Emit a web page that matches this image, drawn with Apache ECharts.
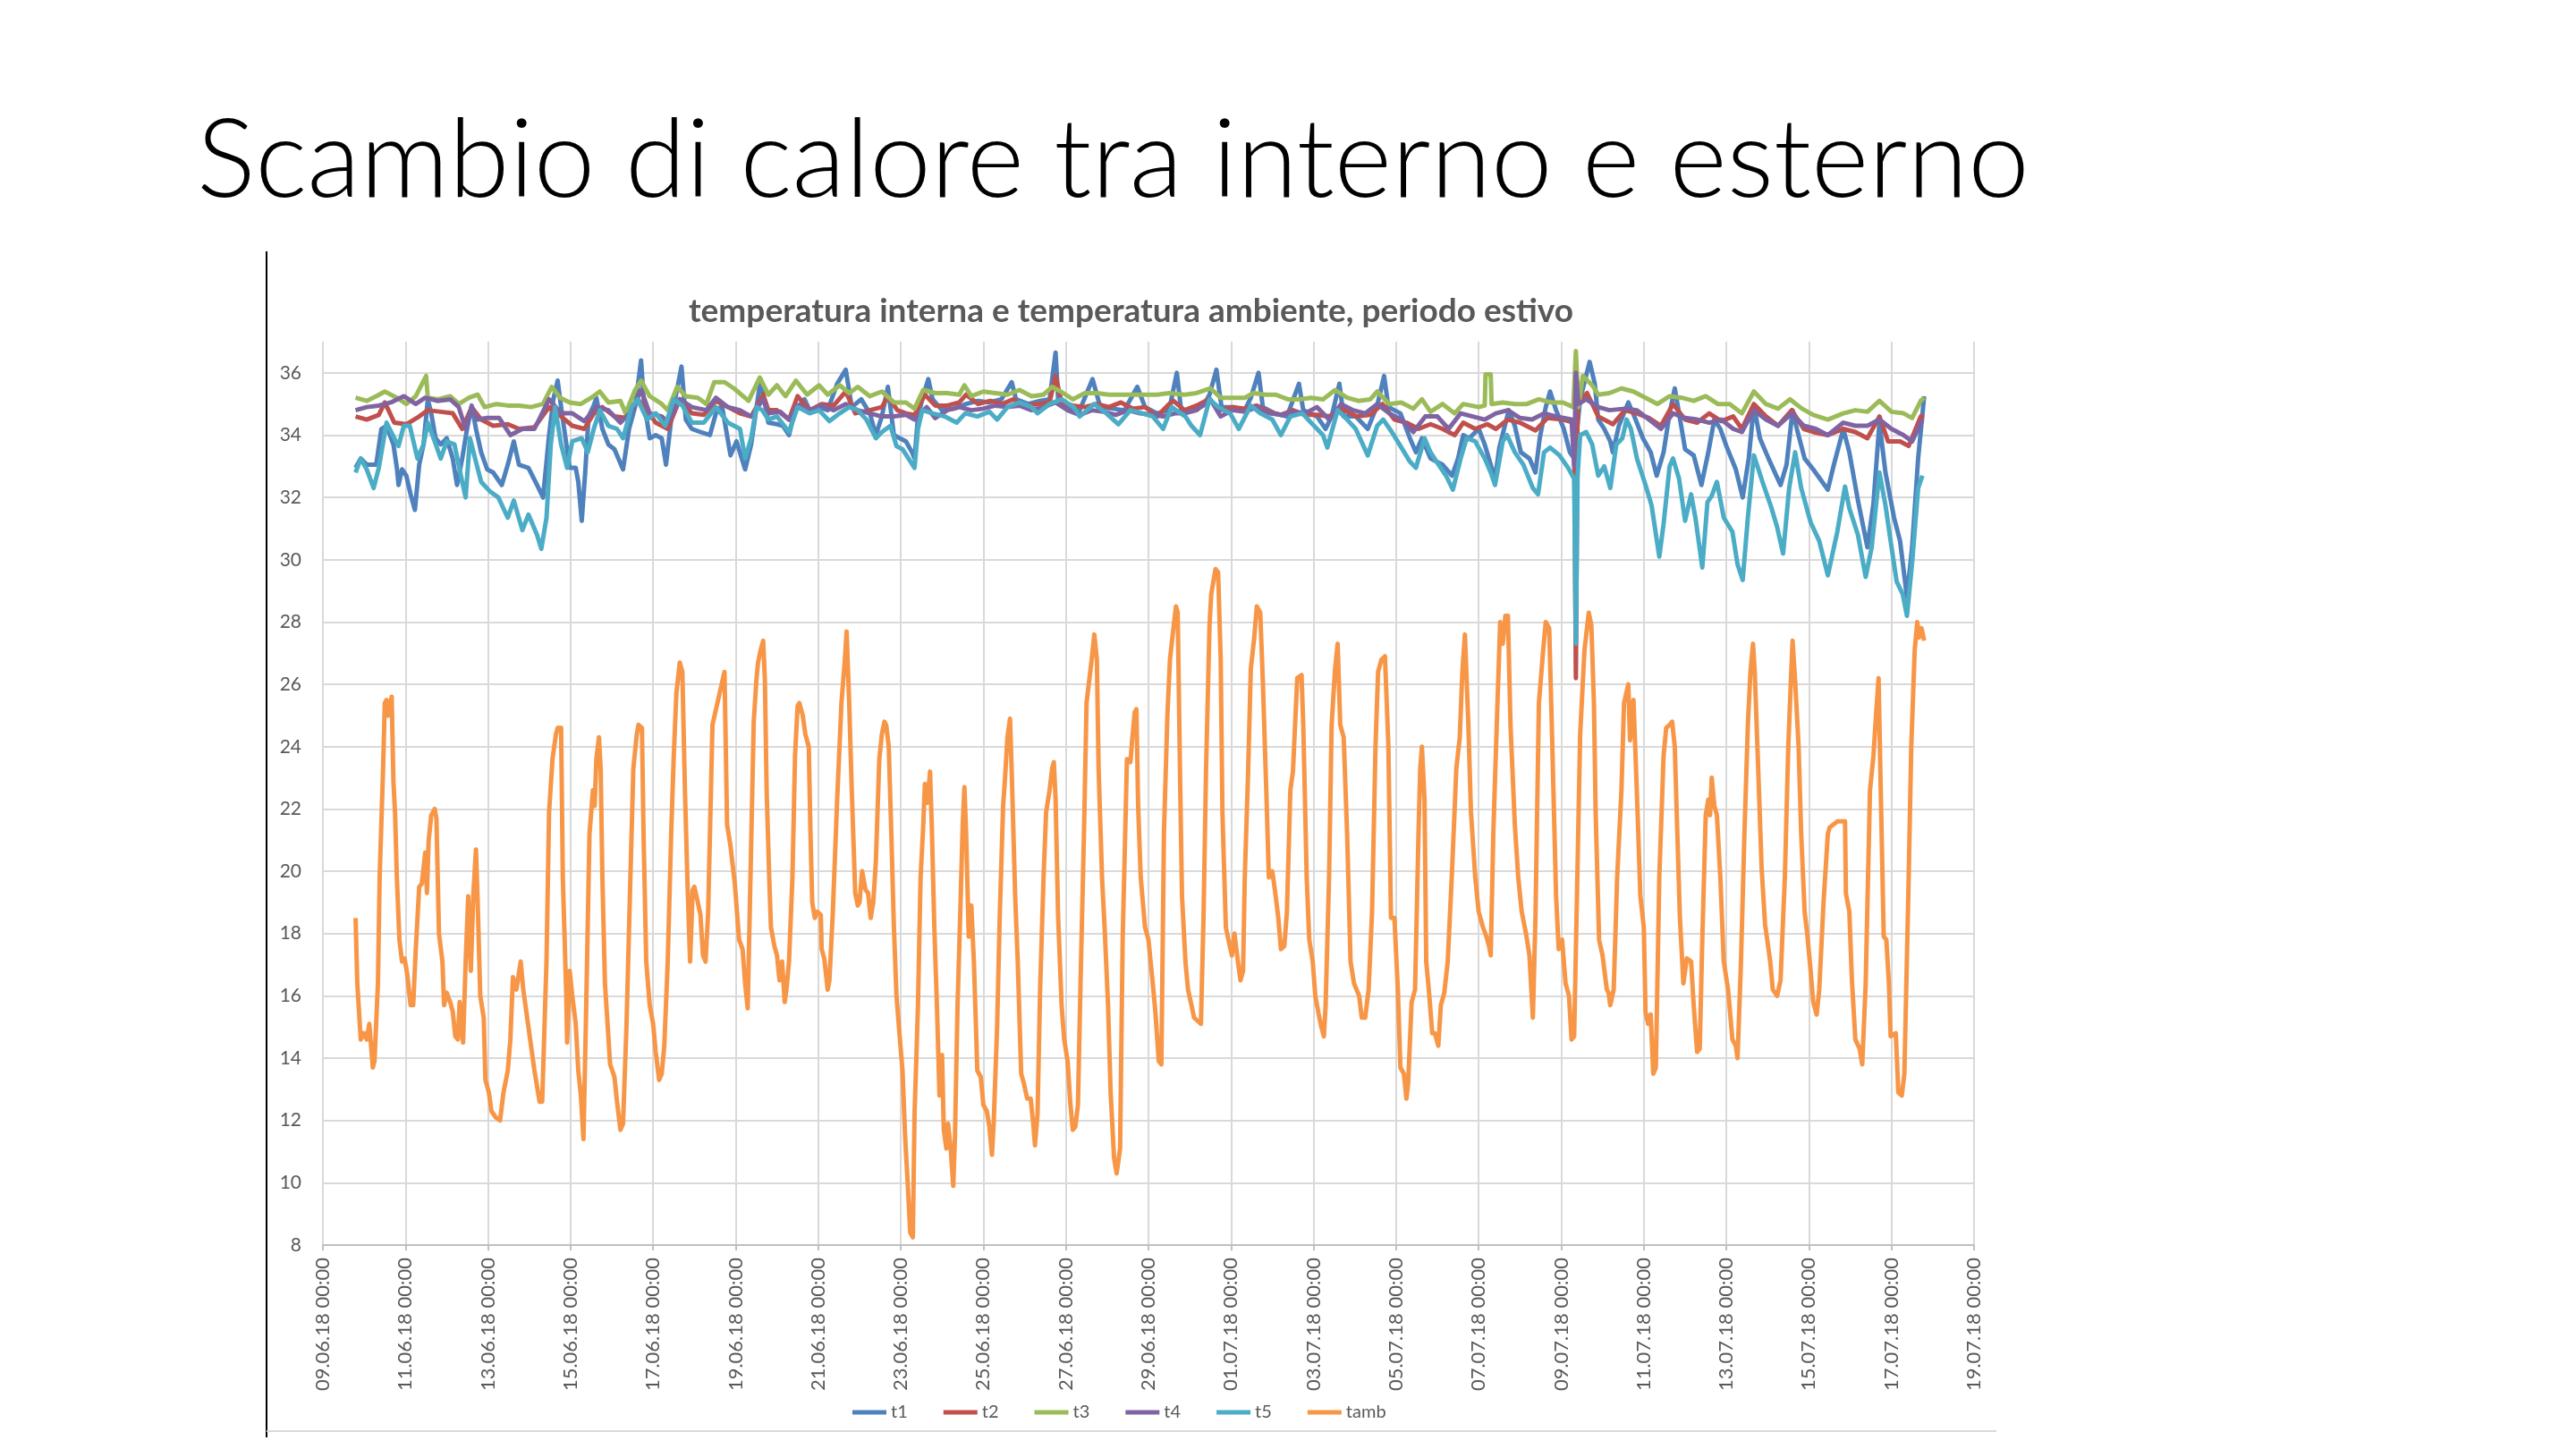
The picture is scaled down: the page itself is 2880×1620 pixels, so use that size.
<!DOCTYPE html>
<html>
<head>
<meta charset="utf-8">
<title>Scambio di calore tra interno e esterno</title>
<script src="https://cdn.jsdelivr.net/npm/echarts@6.0.0/dist/echarts.min.js"></script>
<style>
  html, body { margin: 0; padding: 0; background: #fff; }
  #chart { width: 2880px; height: 1620px; }
</style>
</head>
<body>
<div id="chart"></div>
<script>
// hours after 09.06.18 00:00, temperature in degrees C
const seriesNames = ['t1', 't2', 't3', 't4', 't5', 'tamb'];
const seriesColors = ['#4F81BD', '#C0504D', '#9BBB59', '#8064A2', '#4BACC6', '#F79646'];

const t1 = [[19,32.95],[22,33.25],[25.5,33.05],[31,33.05],[34,34.2],[37,34.3],[41,33.7],[43,32.95],[44,32.4],[46,32.9],[48.5,32.7],[51,32.1],[53.5,31.6],[56,33.05],[58.5,33.7],[61,35.15],[63,34.7],[65.5,33.9],[68.5,33.7],[72,33.9],[75.5,33.25],[78,32.4],[81,33.25],[83.5,34.1],[86.5,34.95],[89,34.2],[92,33.45],[95.5,32.9],[99,32.8],[104,32.4],[107.5,33.05],[111,33.8],[114,33.05],[119.5,32.95],[124.5,32.4],[128,32.0],[131.5,34.0],[134,35.15],[136.5,35.75],[139,34.7],[143.5,32.95],[147,32.95],[148.5,32.5],[150.5,31.25],[152.5,32.8],[154.5,34.6],[157.5,34.95],[159,35.2],[162.5,34.2],[166,33.7],[169.5,33.55],[174.5,32.9],[178,34.2],[181.5,34.9],[185,36.4],[186.5,35.15],[190,33.9],[193.5,34.0],[197,33.9],[199.5,33.05],[202.5,34.5],[205.5,35.35],[208.5,36.2],[211,34.5],[214.5,34.2],[219.5,34.1],[225,34.0],[228.5,34.7],[232,34.95],[237,33.35],[240.5,33.8],[245.5,32.9],[249,33.7],[254.5,35.8],[259,34.4],[264,34.35],[267.5,34.3],[271,34.0],[274.5,34.8],[280,35.15],[283,34.8],[288.5,34.9],[293.5,34.8],[299,35.65],[304,36.1],[307.5,34.9],[313,35.15],[318,34.7],[321.5,34.0],[325,34.6],[328.5,35.55],[332,34.0],[335.5,33.9],[339,33.8],[342.5,33.45],[344,33.25],[346,34.6],[348.5,35.15],[352,35.8],[354.5,35.15],[360,34.8],[367,34.85],[374,35.0],[381,35.1],[387.5,35.05],[394.5,35.15],[400.5,35.7],[403,35.15],[410,35.0],[417,35.1],[422.5,35.15],[426,36.65],[427.5,35.15],[434.5,34.9],[440,34.8],[447.5,35.8],[452,34.9],[459,34.85],[466,34.8],[473.5,35.55],[478,34.9],[485,34.7],[492,34.8],[496.5,36.0],[499,34.8],[505,34.8],[512,34.95],[515.5,35.3],[519.5,36.1],[522.5,34.9],[529.5,34.9],[536,34.8],[539.5,35.2],[544,36.0],[546.5,34.9],[553.5,34.7],[560.5,34.6],[567.5,35.65],[570,34.8],[578,34.6],[583,34.2],[586.5,34.6],[591,35.65],[593.5,34.6],[600.5,34.6],[607.5,34.2],[613,34.95],[617,35.9],[619.5,34.9],[626.5,34.7],[632,33.9],[635.5,33.45],[639,33.9],[644,33.25],[651,33.05],[656.5,32.7],[660,33.25],[663,34.0],[666.5,33.9],[672,34.2],[675.5,33.7],[679,33.05],[681.5,32.6],[684,33.6],[689.5,34.8],[693,34.3],[696.5,33.45],[701.5,33.25],[705,32.8],[707.5,33.9],[711,34.9],[713.5,35.4],[717,34.8],[721.5,34.2],[725,33.45],[727.5,33.25],[731,35.15],[736.5,36.35],[739.5,35.65],[741.5,34.5],[745,34.2],[748.5,33.8],[750,33.45],[753.5,34.3],[759,35.05],[762.5,34.6],[767.5,33.9],[772,33.45],[775.5,32.7],[779.5,33.45],[783,34.7],[786,35.5],[788.5,34.7],[792,33.55],[797,33.35],[801.5,32.4],[805.5,33.45],[809,34.5],[812.5,34.2],[816,33.65],[821.5,32.9],[825.5,32.0],[829,33.25],[832,34.95],[835.5,33.9],[840.5,33.25],[847.5,32.4],[851,33.05],[854.5,34.8],[857,34.2],[861.5,33.25],[866.5,32.9],[875,32.25],[878.5,33.05],[884,34.2],[887.5,33.45],[892.5,31.9],[898,30.4],[901.5,31.8],[905,34.4],[908.5,32.8],[913.5,31.35],[917,30.6],[921,28.8],[924,30.4],[927.5,33.25],[931,35.25]];

const t2 = [[19,34.6],[25.5,34.5],[32.5,34.65],[36,35.05],[41.5,34.4],[48.5,34.35],[56,34.6],[61,34.8],[68.5,34.75],[75.5,34.7],[81,34.2],[86.5,34.9],[92,34.5],[99,34.3],[107.5,34.35],[114,34.2],[123,34.25],[131.5,34.9],[138.5,34.6],[145,34.3],[152,34.2],[157.5,34.7],[162.5,34.9],[169.5,34.6],[176.5,34.55],[183,35.15],[188.5,34.8],[193.5,34.4],[200.5,34.2],[207.5,35.15],[214.5,34.7],[221.5,34.65],[228.5,35.1],[235.5,34.9],[242.5,34.7],[249,34.6],[256,35.3],[259,34.8],[264,34.8],[271,34.5],[276,35.25],[283,34.8],[290,35.0],[297,34.95],[304,35.4],[309.5,34.7],[318,34.8],[325,34.9],[328.5,35.25],[334,34.8],[339,34.7],[344,34.65],[350,35.3],[356,34.95],[363,34.95],[370,35.05],[374,35.3],[381,35.0],[388,35.1],[395,35.0],[401.5,35.15],[408.5,34.95],[415.5,35.0],[422.5,35.05],[426,35.9],[429.5,35.05],[436,34.95],[443,34.9],[450,35.0],[457,34.9],[464,35.05],[471,34.85],[478,34.9],[485,34.6],[492,35.0],[494.5,35.1],[501,34.8],[508,34.95],[515,35.15],[522,34.8],[529,34.9],[536,34.85],[543,34.95],[550,34.75],[557,34.65],[564,34.8],[571,34.65],[578,34.65],[585,34.6],[592,34.85],[601,34.6],[609,34.65],[616,35.0],[623,34.5],[630,34.4],[637,34.2],[644,34.35],[651,34.2],[658,34.0],[663,34.4],[670,34.2],[677,34.35],[682,34.2],[689,34.5],[696,34.4],[705,34.15],[712,34.55],[721,34.5],[727.5,34.4],[728.5,26.2],[729.5,35.0],[735,35.35],[741.5,34.6],[750,34.35],[757,34.8],[764,34.7],[771,34.55],[778,34.3],[785,35.0],[792,34.5],[799,34.4],[806,34.7],[813,34.45],[820,34.6],[825,34.2],[832,35.0],[839,34.6],[846,34.3],[854,34.8],[861,34.2],[866.5,34.1],[875,34.0],[884,34.2],[891,34.1],[898,33.9],[905,34.6],[910,33.8],[917,33.8],[922,33.65],[929,34.6],[931,34.6]];

const t3 = [[19,35.2],[25.5,35.1],[31,35.25],[36,35.4],[43,35.2],[48.5,35.0],[54,35.25],[60,35.9],[61,35.2],[67,35.15],[74,35.25],[79,35.0],[85,35.2],[90,35.3],[94,34.9],[101,35.0],[107.5,34.95],[114,34.95],[121,34.9],[128,35.0],[133,35.55],[138,35.2],[143.5,35.05],[150,35.0],[156,35.2],[161,35.4],[166,35.05],[173,35.1],[176,34.7],[181.5,35.45],[185,35.75],[190,35.25],[197,35.0],[200.5,34.8],[206,35.55],[211,35.25],[218,35.2],[223,35.0],[227.5,35.7],[233.5,35.7],[239,35.5],[247.5,35.1],[254,35.85],[259,35.3],[264,35.6],[269,35.25],[275,35.75],[281.5,35.3],[288.5,35.6],[293.5,35.3],[300.5,35.6],[306,35.35],[311,35.55],[318,35.25],[325,35.4],[332,35.05],[339,35.05],[344,34.85],[349,35.45],[356,35.35],[363,35.35],[370,35.3],[373,35.6],[377,35.25],[384,35.4],[391,35.35],[398,35.3],[405,35.45],[412,35.25],[419,35.3],[424,35.55],[429,35.4],[436,35.15],[443,35.35],[450,35.35],[457,35.3],[464,35.3],[471,35.3],[478,35.3],[485,35.3],[492,35.35],[501,35.3],[508,35.35],[516,35.5],[522,35.2],[529,35.2],[536,35.2],[541,35.35],[548,35.3],[554,35.3],[561,35.15],[568,35.15],[574.5,35.2],[581.5,35.15],[588.5,35.45],[595.5,35.2],[602,35.1],[609,35.15],[613,35.4],[620,35.0],[627,35.05],[634,34.85],[639,35.15],[644,34.75],[651,35.0],[658,34.7],[663,35.0],[672,34.9],[675.5,34.95],[676,35.95],[679,35.95],[679.5,35.0],[686,35.05],[693,35.0],[700,35.0],[707,35.15],[714,35.05],[721,35.05],[727,34.9],[728.5,36.7],[730,34.9],[732.5,35.9],[738,35.6],[741.5,35.3],[748,35.35],[755,35.5],[762,35.4],[769,35.2],[776,35.0],[783,35.25],[790,35.2],[797,35.1],[804,35.25],[811,35.0],[818,35.0],[825,34.7],[832,35.4],[839,35.0],[846,34.85],[853,35.15],[860,34.85],[866.5,34.65],[875,34.5],[884,34.7],[891,34.8],[898,34.75],[905,35.1],[912,34.75],[919,34.7],[924,34.55],[929,35.1],[931,35.2]];

const t4 = [[19,34.8],[25.5,34.9],[32.5,34.95],[39.5,35.05],[47,35.25],[54,35.0],[59.5,35.2],[66.5,35.1],[74,35.15],[79,34.9],[83,34.2],[86.5,34.9],[90,34.5],[95.5,34.55],[102.5,34.55],[109,34.0],[116,34.2],[123,34.2],[131.5,35.15],[138.5,34.7],[145,34.7],[152,34.45],[159,34.9],[166,34.8],[173,34.4],[180,34.8],[185,35.45],[190,34.7],[197,34.6],[200.5,34.4],[207.5,35.15],[214.5,34.9],[223,34.8],[228.5,35.2],[235.5,34.9],[242.5,34.8],[249,34.6],[256,35.15],[259,34.7],[266,34.75],[271,34.5],[276,34.95],[283,34.8],[290,34.95],[297,34.8],[304,35.0],[311,34.8],[318,34.7],[325,34.6],[332,34.6],[339,34.65],[344,34.5],[351,34.9],[356,34.55],[363,34.8],[370,34.9],[377,34.8],[384,34.85],[391,34.95],[398,34.9],[405,34.95],[412,34.8],[419,34.9],[426,35.05],[433,34.8],[440,34.65],[447,34.8],[454,34.75],[461,34.65],[468,34.8],[475,34.7],[482,34.65],[488.5,34.6],[495.5,34.7],[501,34.7],[508,34.8],[516,35.15],[522,34.6],[529,34.8],[536,34.75],[543,34.9],[550,34.7],[557,34.65],[564,34.75],[571,34.7],[578,34.9],[585,34.5],[592,35.0],[599,34.8],[606,34.7],[613,35.0],[620,34.7],[627,34.5],[634,34.1],[641,34.6],[648,34.6],[654.5,34.2],[661.5,34.7],[668.5,34.6],[675.5,34.5],[682,34.7],[689,34.8],[696,34.55],[703,34.5],[710,34.7],[717,34.6],[726,34.5],[727.5,33.0],[728.5,36.0],[730,35.0],[734.5,35.15],[741.5,34.9],[748,34.8],[757,34.85],[764,34.8],[771,34.5],[778,34.2],[785,34.7],[792,34.55],[799,34.5],[806,34.4],[813,34.5],[820,34.2],[825,34.1],[832,34.8],[839,34.5],[846,34.3],[854,34.7],[861,34.3],[868,34.2],[875,34.0],[884,34.4],[891,34.3],[898,34.3],[905,34.5],[912,34.2],[919,34.0],[924,33.8],[930,34.5]];

const t5 = [[19,32.8],[22,33.25],[25.5,32.9],[29.5,32.3],[32.5,32.95],[37,34.4],[41.5,33.9],[44,33.65],[47,34.3],[50.5,34.3],[55,33.25],[58.5,33.7],[61,34.4],[65,33.8],[68.5,33.25],[72,33.8],[76.5,33.7],[81,32.5],[83,32.0],[85.5,33.9],[88.5,33.25],[92,32.5],[97,32.2],[102,32.0],[107.5,31.35],[111,31.9],[116,30.95],[119.5,31.45],[124.5,30.8],[127,30.35],[130,31.35],[132.5,33.7],[135,34.9],[138.5,33.7],[142,32.95],[145,33.8],[150.5,33.9],[154,33.45],[157.5,34.2],[161,34.8],[166,34.3],[171,34.2],[174.5,33.9],[179.5,34.9],[183,35.15],[188.5,34.5],[193.5,34.7],[199,34.3],[204,35.15],[209,34.95],[214.5,34.4],[221.5,34.4],[228.5,34.9],[235.5,34.4],[242.5,34.2],[245.5,33.25],[249,33.9],[252,34.9],[255.5,34.8],[259,34.5],[264,34.6],[271,34.1],[276,34.9],[283,34.7],[288.5,34.8],[294.5,34.45],[300.5,34.7],[306,34.9],[311,34.8],[316,34.5],[321.5,33.9],[325,34.1],[330,34.3],[333.5,33.65],[337,33.55],[340.5,33.25],[344,32.95],[346,34.2],[348.5,34.8],[354.5,34.7],[361.5,34.6],[368.5,34.4],[373.5,34.7],[380.5,34.6],[387.5,34.75],[392,34.5],[398,34.9],[405,35.05],[412,34.9],[415.5,34.7],[422.5,35.0],[429.5,35.15],[436.5,34.9],[440,34.6],[448.5,35.0],[455.5,34.7],[462.5,34.35],[469.5,34.8],[476.5,34.7],[482.5,34.6],[488.5,34.2],[493.5,34.9],[496,34.8],[501.5,34.6],[505,34.3],[510,34.0],[515.5,35.15],[520.5,34.9],[527.5,34.7],[532.5,34.2],[539.5,34.95],[545,34.7],[552,34.5],[557,34.0],[562.5,34.6],[569.5,34.7],[574.5,34.4],[581.5,34.0],[584,33.6],[590,34.8],[595.5,34.5],[600.5,34.2],[607.5,33.35],[613,34.3],[616.5,34.5],[621.5,34.1],[626.5,33.65],[632,33.15],[635.5,32.95],[640.5,33.9],[644,33.45],[647.5,33.15],[653,32.7],[657,32.25],[661.5,33.25],[665,33.9],[670,33.8],[675.5,33.25],[679,32.8],[681.5,32.4],[686,33.8],[688.5,34.0],[693,33.45],[698,33.05],[703.5,32.3],[706.5,32.1],[710,33.45],[713.5,33.6],[719,33.35],[724,32.95],[727.5,32.6],[728.5,27.3],[729.5,32.7],[731,34.0],[734.5,34.1],[738,33.7],[741.5,32.7],[745,33.0],[748.5,32.3],[752,33.7],[755.5,33.9],[758,34.5],[760.5,34.2],[764,33.25],[769,32.4],[772.5,31.75],[777,30.1],[779.5,31.15],[783,33.0],[785,33.25],[788.5,32.6],[792,31.25],[795.5,32.1],[798,31.35],[802,29.75],[805,31.85],[807.5,32.05],[810.5,32.5],[814.5,31.35],[819.5,30.9],[822.5,29.85],[825.5,29.35],[828.5,31.35],[832,33.35],[837,32.5],[842,31.7],[845.5,31.05],[849,30.2],[852.5,32.3],[856,33.45],[859.5,32.3],[865,31.2],[870,30.6],[875,29.5],[880.5,30.9],[885,32.35],[887.5,31.65],[892.5,30.8],[897,29.45],[900.5,30.4],[905,32.8],[908.5,31.75],[911.5,30.6],[915,29.3],[918.5,28.9],[921,28.2],[924,29.9],[927.5,32.3],[930,32.7]];

const tamb = [[19,18.5],[20,16.4],[22,14.6],[24,14.8],[25.5,14.6],[27,15.1],[28,14.4],[29,13.7],[30,13.9],[32,16.4],[33,19.8],[35,23.3],[36,25.4],[37,25.5],[38,25.0],[40,25.6],[41,22.9],[42,21.8],[43,19.8],[44.5,17.8],[46,17.1],[47.5,17.2],[49,16.7],[51,15.7],[52.5,15.7],[54,17.5],[56,19.5],[57.5,19.6],[59.5,20.6],[60.5,19.3],[61.5,21.0],[63,21.8],[65,22.0],[66,21.7],[67.5,18.0],[69.5,17.1],[70.5,15.7],[72,16.1],[74,15.8],[75.5,15.5],[77,14.7],[78.5,14.6],[79.5,15.8],[81.5,14.5],[83,17.1],[84.5,19.2],[86,16.8],[87.5,19.3],[89,20.7],[90,19.0],[91.5,16.0],[93.5,15.3],[94.5,13.3],[96.5,12.9],[98,12.3],[100.5,12.1],[103,12.0],[105,12.9],[107.5,13.6],[109,14.6],[110.5,16.6],[112.5,16.2],[115,17.1],[116.5,16.2],[119.5,15.0],[123,13.6],[126,12.6],[127.5,12.6],[130,17.1],[131.5,21.9],[133.5,23.6],[135.5,24.4],[136.5,24.6],[138.5,24.6],[139.5,19.8],[141.5,16.0],[142,14.5],[143.5,16.8],[145,16.0],[147,15.1],[148.5,13.6],[150,12.8],[151.5,11.4],[153,15.4],[155,21.2],[157,22.6],[158,22.1],[159,23.6],[160.5,24.3],[161.5,23.3],[162.5,19.8],[164,16.4],[167,13.8],[169.5,13.4],[171,12.6],[173,11.7],[174.5,11.9],[176.5,15.0],[178.5,19.2],[180.5,23.3],[182.5,24.4],[183.5,24.7],[185.5,24.6],[186.5,21.0],[188,17.1],[190,15.7],[192,15.1],[193.5,14.2],[195.5,13.3],[197,13.5],[198.5,14.4],[200.5,17.1],[202.5,21.2],[204,23.7],[205.5,25.7],[207.5,26.7],[209,26.4],[210.5,22.6],[212,19.6],[213.5,17.1],[215,19.4],[216,19.5],[218,19.0],[219.5,18.6],[221,17.3],[222.5,17.1],[224,18.7],[226.5,24.7],[233.5,26.4],[235,21.5],[237,20.8],[239.5,19.6],[242,17.8],[244,17.5],[245.5,16.4],[247,15.6],[250.5,24.8],[252,26.1],[253,26.7],[254.5,27.1],[256,27.4],[257,26.1],[258,22.6],[259.5,19.8],[260.5,18.2],[262.5,17.6],[264,17.3],[265.5,16.5],[267,17.1],[268.5,15.8],[269.5,16.2],[271,17.1],[273,19.8],[274.5,23.7],[276,25.3],[277,25.4],[279,25.0],[280.5,24.4],[282.5,24.0],[283.5,21.2],[284.5,19.0],[286,18.5],[287.5,18.7],[289.5,18.6],[290,17.5],[291.5,17.2],[293.5,16.2],[294.5,16.5],[296.5,18.7],[299,22.3],[301.5,25.4],[303.5,26.8],[304.5,27.7],[306,25.4],[307.5,22.6],[309.5,19.3],[311,18.9],[312,19.0],[313.5,20.0],[315.5,19.4],[317,19.3],[318.5,18.5],[320,19.0],[321.5,20.3],[323.5,23.6],[325,24.4],[326.5,24.8],[327.5,24.7],[329,24.0],[330.5,21.2],[332,18.2],[333.5,16.0],[335.5,14.6],[337,13.6],[338.5,11.5],[340,10.0],[341.5,8.4],[343,8.25],[344,12.2],[346,15.7],[347.5,19.8],[349,21.4],[350,22.8],[351.5,22.2],[353,23.2],[354,21.5],[355.5,18.2],[357,15.7],[358.5,12.8],[360,14.1],[361,11.7],[362.5,11.1],[363.5,11.9],[365,11.1],[366.5,9.9],[367.5,11.5],[369,15.7],[370.5,18.5],[372,21.5],[373,22.7],[374,21.2],[375.5,17.9],[377,18.9],[378.5,17.1],[380.5,13.6],[382.5,13.4],[384,12.5],[386,12.3],[387.5,11.8],[389,10.9],[390,11.9],[392,15.0],[393.5,18.5],[395.5,22.1],[396.5,22.9],[398,24.3],[399.5,24.9],[400.5,23.2],[402.5,19.2],[404,17.1],[406,13.5],[407.5,13.2],[409.5,12.7],[411.5,12.7],[413,11.9],[414,11.2],[415.5,12.2],[417,16.2],[419,19.8],[420.5,21.9],[422.5,22.6],[424,23.3],[425,23.5],[426,22.3],[427.5,18.5],[429.5,15.7],[431,14.6],[433,13.9],[434.5,12.6],[436,11.7],[437.5,11.8],[439,12.5],[440.5,16.4],[442.5,21.2],[444,25.4],[445.5,26.1],[447,26.8],[448.5,27.6],[450,26.8],[451,23.3],[453,19.8],[454.5,18.2],[456.5,15.7],[458,12.9],[460,10.8],[461.5,10.3],[463.5,11.1],[465,17.8],[467.5,23.6],[469.5,23.5],[470.5,24.2],[472,25.1],[473,25.2],[474,22.1],[475.5,19.8],[478,18.2],[480,17.8],[482.5,16.4],[484,15.5],[486,13.9],[487.5,13.8],[489,21.2],[491,25.0],[492.5,26.8],[494.5,27.8],[496,28.5],[497,28.3],[498.5,22.6],[499.5,19.2],[501.5,17.1],[503,16.2],[505,15.7],[506.5,15.3],[508.5,15.2],[510.5,15.1],[512,18.5],[513.5,23.3],[515.5,27.9],[516.5,28.9],[519,29.7],[520.5,29.6],[522,26.8],[523,21.9],[525,18.2],[526.5,17.8],[528.5,17.3],[530,18.0],[532,17.1],[533.5,16.5],[535,16.8],[536,19.8],[538,23.3],[539.5,26.5],[541.5,27.5],[543,28.5],[545,28.3],[546.5,26.1],[548.5,22.6],[550,19.8],[552,20.0],[553.5,19.4],[555.5,18.5],[557,17.5],[559,17.6],[560.5,18.7],[562.5,22.6],[564,23.2],[566.5,26.2],[569,26.3],[570,24.7],[572,19.8],[573.5,17.8],[575.5,17.1],[577,16.0],[579,15.4],[580.5,15.0],[582,14.7],[583,15.7],[585,19.8],[586.5,24.7],[588.5,26.5],[590,27.3],[591.5,24.7],[593.5,24.3],[595.5,21.2],[597.5,17.1],[599.5,16.4],[602.5,16.0],[604,15.3],[606,15.3],[608,16.2],[610,18.7],[612,24.0],[613.5,26.4],[615.5,26.8],[617.5,26.9],[619.5,24.0],[621,18.5],[623,18.5],[625,16.2],[626.5,13.7],[628.5,13.5],[630,12.7],[631,13.2],[633,15.8],[635,16.2],[637,21.2],[638,23.3],[639,24.0],[640.5,22.3],[641.5,17.1],[643,16.2],[645,14.8],[646.5,14.8],[648.5,14.4],[650,15.7],[652,16.1],[654,17.1],[656.5,20.0],[659,23.3],[661,24.3],[662.5,26.4],[664,27.6],[666,24.7],[667.5,21.9],[670,19.8],[672,18.7],[674.5,18.2],[676.5,17.9],[678,17.6],[679,17.3],[680.5,21.2],[682.5,24.7],[684.5,28.0],[686,27.3],[687.5,28.2],[689,28.2],[690.5,24.7],[693,21.5],[695,19.8],[697,18.7],[699.5,18.0],[701.5,17.3],[703.5,15.3],[705,18.5],[707,25.4],[709.5,27.1],[711,28.0],[713,27.8],[714.5,24.7],[717,19.2],[718.5,17.5],[720.5,17.8],[722.5,16.4],[724.5,16.0],[726,14.6],[727.5,14.7],[731,24.4],[733.5,27.1],[736,28.3],[737.5,27.9],[739,25.4],[740,21.9],[742,17.8],[744,17.3],[746.5,16.2],[747.5,16.1],[748.5,15.7],[750.5,16.2],[752.5,19.8],[755,22.6],[756.5,25.4],[759,26.0],[760,24.2],[762,25.5],[763,24.0],[764.5,21.7],[766,19.2],[768,18.2],[769,15.5],[770.5,15.1],[772,15.4],[773.5,13.5],[775,13.7],[777,19.8],[779.5,23.7],[781,24.6],[783,24.7],[784.5,24.8],[786,24.0],[787.5,21.2],[789,18.5],[791,16.4],[793,17.2],[795.5,17.1],[797,15.7],[799,14.2],[800.5,14.3],[802,17.8],[804,21.8],[805.5,22.3],[806.5,21.8],[807.5,23.0],[809,22.1],[810.5,21.8],[812.5,19.8],[814.5,17.1],[817,16.2],[819.5,14.6],[821.5,14.4],[822.5,14.0],[824.5,17.1],[826.5,21.2],[828.5,24.7],[830,26.4],[831.5,27.3],[832.5,26.4],[834.5,23.3],[836.5,20.1],[838.5,18.3],[841.5,17.1],[843,16.2],[845.5,16.0],[847.5,16.5],[850,19.8],[852,24.0],[853.5,26.1],[854.5,27.4],[856,26.1],[858,24.0],[859.5,21.2],[861.5,18.7],[863,18.0],[865,16.8],[866.5,15.8],[868.5,15.4],[870,16.2],[872.5,19.0],[875,21.2],[876,21.4],[880.5,21.6],[885,21.6],[885.5,19.3],[887.5,18.7],[889,16.5],[891,14.6],[893.5,14.3],[895,13.8],[897,16.4],[899.5,22.6],[901.5,23.7],[903,25.0],[904.5,26.2],[905.5,23.3],[907.5,17.9],[909,17.8],[910.5,16.4],[911.5,14.7],[914.5,14.8],[916,12.9],[918,12.8],[919.5,13.5],[922,19.8],[923.5,24.0],[925.5,27.1],[927,28.0],[928,27.5],[929.5,27.8],[931,27.4]];

const seriesData = [t1, t2, t3, t4, t5, tamb];

// x axis: 09.06.18 00:00 .. 19.07.18 00:00, label every 48 h
const startTime = Date.UTC(2018, 5, 9);
const pad = n => (n < 10 ? '0' : '') + n;
function hourLabel(h) {
  const d = new Date(startTime + h * 3600 * 1000);
  return pad(d.getUTCDate()) + '.' + pad(d.getUTCMonth() + 1) + '.' + pad(d.getUTCFullYear() % 100) +
    ' ' + pad(d.getUTCHours()) + ':' + pad(d.getUTCMinutes());
}

const font = 'Lato, "Open Sans", sans-serif';
const textGray = '#595959';

let myChart = echarts.init(document.getElementById('chart'), null, {renderer: 'canvas'});

const option = {
  backgroundColor: '#ffffff',
  animation: false,
  color: seriesColors,
  title: [
    {
      text: 'Scambio di calore tra interno e esterno',
      left: 220, top: 119, padding: 0,
      textStyle: {fontFamily: font, fontWeight: 300, fontSize: 123, color: '#000000'}
    },
    {
      text: 'temperatura interna e temperatura ambiente, periodo estivo',
      left: 770, top: 330, padding: 0,
      textStyle: {fontFamily: font, fontWeight: 'bold', fontSize: 37, color: textGray}
    }
  ],
  legend: {
    data: seriesNames,
    left: 953, top: 1569, padding: 0,
    icon: 'rect', itemWidth: 38, itemHeight: 5, itemGap: 40,
    textStyle: {fontFamily: font, fontSize: 20, color: textGray}
  },
  grid: {left: 361, right: 673, top: 382, bottom: 228, containLabel: false},
  xAxis: {
    type: 'value',
    min: 0, max: 960, interval: 48,
    axisLine: {show: true, lineStyle: {color: '#bfbfbf', width: 2}},
    axisTick: {show: true, length: 6, lineStyle: {color: '#bfbfbf', width: 2}},
    axisLabel: {rotate: 90, margin: 14, formatter: hourLabel, fontFamily: font, fontSize: 22, color: textGray},
    splitLine: {show: true, lineStyle: {color: '#d9d9d9', width: 2}}
  },
  yAxis: {
    type: 'value',
    min: 8, max: 37, interval: 2,
    axisLine: {show: false},
    axisTick: {show: false},
    axisLabel: {margin: 24, showMaxLabel: false, fontFamily: font, fontSize: 21, color: textGray},
    splitLine: {show: true, showMaxLine: false, lineStyle: {color: '#d9d9d9', width: 2}}
  },
  graphic: [
    {type: 'line', shape: {x1: 298, y1: 281, x2: 298, y2: 1607}, style: {stroke: '#000000', lineWidth: 2}},
    {type: 'line', shape: {x1: 298, y1: 1600, x2: 2232, y2: 1600}, style: {stroke: '#d9d9d9', lineWidth: 2}}
  ],
  series: seriesNames.map((name, i) => ({
    name: name,
    type: 'line',
    data: seriesData[i],
    symbol: 'none',
    showSymbol: false,
    lineStyle: {width: 5, color: seriesColors[i], join: 'round'}
  }))
};

myChart.setOption(option);
window.onresize = function() {
  myChart.resize();
};
</script>
</body>
</html>
